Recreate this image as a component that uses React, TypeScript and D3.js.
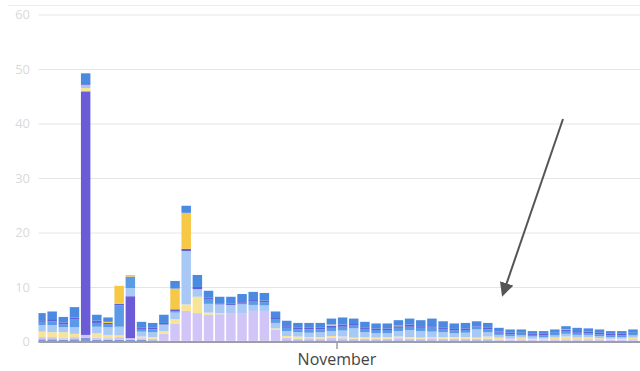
import React from "react";
import * as d3 from "d3";

// Daily series, one value per day starting Oct 5
const steel = [0.5,0.5,0.4,0.5,0.8,0.4,0.4,0.4,0.4,0.4,0.3,0.2,0.2,0.2,0.2,0.2,0.2,0.2,0.2,0.2,0.2,0.2,0.3,0.3,0.3,0.3,0.3,0.3,0.3,0.3,0.3,0.3,0.3,0.3,0.3,0.3,0.3,0.3,0.3,0.3,0.3,0.2,0.2,0.2,0.2,0.2,0.2,0.2,0.2,0.2,0.2,0.2,0.2,0.2];
const lavender = [0.4,0.4,0.3,0.4,0.5,0.4,0.3,0.5,0.3,0.3,0.3,1.3,3.2,5.5,5.1,4.8,4.9,5.0,5.0,5.5,5.5,2.0,0.5,0.3,0.4,0.3,0.5,0.4,0.3,0.3,0.3,0.3,0.4,0.3,0.3,0.4,0.3,0.3,0.3,0.3,0.3,0.2,0.2,0.3,0.2,0.2,0.3,0.3,0.3,0.3,0.3,0.2,0.2,0.3];
const purple = [0,0,0,0,44.7,0,0,0,7.7,0,0,0,0,0,0,0,0,0,0,0,0,0,0,0,0,0,0,0,0,0,0,0,0,0,0,0,0,0,0,0,0,0,0,0,0,0,0,0,0,0,0,0,0,0];
const paleYellow = [1.0,0.9,1.1,0.6,0.6,0.8,0.6,0.3,0,0.3,0.3,0.5,0.8,1.2,3.0,0.4,0.2,0,0,0,0,0.3,0.3,0.4,0.2,0.3,0.3,0.3,0.2,0.3,0.2,0.3,0.3,0.3,0.2,0.2,0.3,0.3,0.3,0.2,0.4,0.4,0.2,0.3,0.2,0.2,0.3,0.5,0.3,0.4,0.2,0.2,0.2,0.3];
const lightBlue = [1.2,1.3,0.9,1.2,0.6,1.2,1.4,1.6,1.5,0.9,0.9,1.2,1.2,9.8,1.4,1.6,1.6,1.6,1.7,1.1,1.0,1.0,0.9,0.8,0.8,0.9,0.9,1.1,1.7,0.9,0.8,0.7,1.0,1.3,1.2,1.0,0.9,0.7,0.8,1.5,0.8,0.5,0.5,0.4,0.4,0.3,0.4,0.5,0.5,0.4,0.4,0.3,0.3,0.4];
const blue = [0.6,0.7,0.5,1.5,0,0.7,0.5,3.9,2.1,0.5,0.5,0,0.2,0,0,0.9,0,0,0.3,0.6,0.6,0.6,0.6,0.5,0.6,0.5,0.6,0.7,0.6,0.6,0.6,0.6,0.6,0.6,0.6,0.9,0.6,0.5,0.5,0.5,0.5,0.4,0.3,0.3,0.3,0.3,0.3,0.4,0.4,0.3,0.3,0.3,0.3,0.3];
const indigo = [0.3,0.4,0.4,0.3,0.3,0.4,0.3,0.3,0,0.3,0.3,0.3,0.4,0.4,0.4,0.3,0.2,0.3,0.3,0.3,0.3,0.3,0.3,0.3,0.3,0.3,0.4,0.4,0.2,0.3,0.3,0.3,0.3,0.4,0.3,0.3,0.3,0.3,0.3,0.1,0.3,0.2,0.3,0.2,0.2,0.3,0.2,0.3,0.3,0.3,0.3,0.3,0.3,0.2];
const gold = [0,0,0,0,0,0,0.2,3.3,0.3,0,0,0,3.8,6.6,0,0,0,0,0,0,0,0,0,0,0,0,0.2,0,0,0,0,0,0.1,0,0,0,0,0,0,0,0,0,0,0,0,0,0,0.1,0,0,0,0,0,0];
const cap = [1.3,1.4,1.0,1.9,1.8,1.1,0.8,0,0,1.0,0.9,1.5,1.4,1.3,2.2,1.2,1.2,1.2,1.3,1.5,1.4,1.2,1.0,0.9,0.9,0.9,1.1,1.3,1.0,1.0,0.9,0.9,1.0,1.1,1.1,1.2,1.1,1.0,1.0,0.9,0.9,0.7,0.6,0.6,0.5,0.5,0.6,0.6,0.6,0.6,0.6,0.5,0.5,0.6];

const seriesKeys = ["steel", "lavender", "purple", "paleYellow", "lightBlue", "blue", "indigo", "gold", "cap"];
const seriesValues: Record<string, number[]> = { steel, lavender, purple, paleYellow, lightBlue, blue, indigo, gold, cap };
const seriesColors = ["#7f99d6", "#d0c5f6", "#6b5bd6", "#f8e497", "#a8c9f6", "#5b9ae6", "#5f60d8", "#f6c845", "#4a8ae0"];

const yTicks = [0, 10, 20, 30, 40, 50, 60];
const xTickLabels = [{ date: new Date(2023, 10, 1), label: "November" }];
const startDate = new Date(2023, 9, 5);

const W = 640;
const H = 371;

export default function App() {
  const n = steel.length;
  const days = d3.range(n).map((i) => d3.timeDay.offset(startDate, i));
  const rows = days.map((d, i) => {
    const r: any = { date: d };
    seriesKeys.forEach((k) => (r[k] = seriesValues[k][i]));
    return r;
  });
  const stacked = d3.stack().keys(seriesKeys)(rows);

  const x = d3
    .scaleTime()
    .domain([startDate, d3.timeDay.offset(startDate, n)])
    .range([35.4, 35.4 + n * 11.17]);
  const y = d3.scaleLinear().domain([0, 60]).range([342, 15]);

  const plotLeft = 38.5;
  const pad = 0.85;

  return (
    <svg
      width={W}
      height={H}
      style={{ position: "absolute", left: 0, top: 0, background: "#fff" }}
      fontFamily="'Open Sans', sans-serif"
    >
      <defs>
        <clipPath id="plot">
          <rect x={plotLeft} y={0} width={W - plotLeft} height={H} />
        </clipPath>
        <marker id="head" viewBox="0 0 10 10" refX="8" refY="5" markerWidth="7" markerHeight="7" orient="auto">
          <path d="M0,0 L10,5 L0,10 z" fill="#555" />
        </marker>
      </defs>

      <line x1={8} x2={W} y1={5.5} y2={5.5} stroke="#ececec" strokeWidth={1} />

      {yTicks.map((t) => (
        <g key={t}>
          {t > 0 && <line x1={plotLeft} x2={W} y1={y(t)} y2={y(t)} stroke="#e6e6e6" strokeWidth={1} />}
          <text x={30} y={y(t) + 4} textAnchor="end" fontSize={13} fill="#444" opacity={0.2}>
            {t}
          </text>
        </g>
      ))}

      <g clipPath="url(#plot)">
        {stacked.map((s, si) => (
          <g key={s.key} fill={seriesColors[si]}>
            {s.map((d, i) => {
              const h = y(d[0]) - y(d[1]);
              if (h <= 0) return null;
              const x0 = x(days[i]) + pad;
              const x1 = x(d3.timeDay.offset(days[i], 1)) - pad;
              return <rect key={i} x={x0} y={y(d[1])} width={x1 - x0} height={h} />;
            })}
          </g>
        ))}
      </g>

      <line x1={plotLeft} x2={W} y1={342} y2={342} stroke="#9d9ea8" strokeWidth={2} />
      {xTickLabels.map((t) => (
        <g key={t.label}>
          <line x1={x(t.date)} x2={x(t.date)} y1={342} y2={349} stroke="#9d9ea8" strokeWidth={1.5} />
          <text x={x(t.date)} y={365} textAnchor="middle" fontSize={16} fill="#444">
            {t.label}
          </text>
        </g>
      ))}

      <line x1={563} y1={119} x2={503} y2={294} stroke="#555" strokeWidth={2} markerEnd="url(#head)" />
    </svg>
  );
}
